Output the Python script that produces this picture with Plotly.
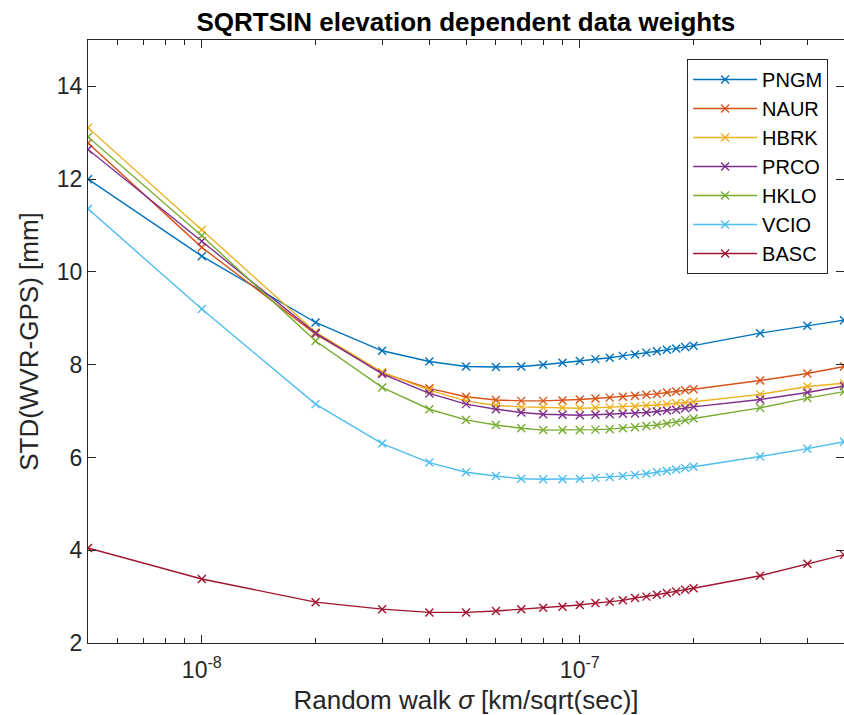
import plotly.graph_objects as go

x_sigma = [5e-9, 1e-8, 2e-8, 3e-8, 4e-8, 5e-8, 6e-8, 7e-8, 8e-8, 9e-8,
           1.0e-7, 1.1e-7, 1.2e-7, 1.3e-7, 1.4e-7, 1.5e-7, 1.6e-7, 1.7e-7, 1.8e-7, 1.9e-7,
           2.0e-7, 3e-7, 4e-7, 5e-7]

PNGM = [12.0, 10.34, 8.91, 8.30, 8.07, 7.96, 7.95, 7.96, 8.00, 8.04, 8.08, 8.12, 8.15, 8.19,
        8.22, 8.26, 8.29, 8.32, 8.35, 8.38, 8.41, 8.68, 8.84, 8.96]
NAUR = [12.78, 10.53, 8.66, 7.82, 7.49, 7.31, 7.24, 7.22, 7.22, 7.23, 7.25, 7.27, 7.29, 7.31,
        7.33, 7.35, 7.37, 7.40, 7.42, 7.45, 7.47, 7.66, 7.81, 7.96]
HBRK = [13.11, 10.91, 8.70, 7.84, 7.45, 7.22, 7.12, 7.09, 7.08, 7.07, 7.06, 7.07, 7.08, 7.09,
        7.10, 7.12, 7.13, 7.15, 7.17, 7.18, 7.20, 7.36, 7.53, 7.60]
PRCO = [12.64, 10.66, 8.68, 7.80, 7.38, 7.15, 7.04, 6.97, 6.93, 6.92, 6.91, 6.92, 6.93, 6.94,
        6.95, 6.97, 6.99, 7.01, 7.03, 7.06, 7.09, 7.25, 7.40, 7.54]
HKLO = [12.91, 10.78, 8.51, 7.51, 7.04, 6.81, 6.70, 6.63, 6.59, 6.59, 6.59, 6.60, 6.61, 6.63,
        6.65, 6.68, 6.70, 6.73, 6.76, 6.80, 6.84, 7.07, 7.28, 7.42]
VCIO = [11.36, 9.20, 7.15, 6.30, 5.89, 5.68, 5.60, 5.54, 5.53, 5.53, 5.54, 5.56, 5.58, 5.60,
        5.62, 5.65, 5.68, 5.71, 5.74, 5.77, 5.80, 6.02, 6.19, 6.34]
BASC = [4.05, 3.38, 2.88, 2.73, 2.66, 2.66, 2.69, 2.73, 2.76, 2.78, 2.82, 2.86, 2.89, 2.92,
        2.97, 3.00, 3.04, 3.08, 3.11, 3.15, 3.18, 3.45, 3.71, 3.90]

series_names = ["PNGM", "NAUR", "HBRK", "PRCO", "HKLO", "VCIO", "BASC"]
series_values = [PNGM, NAUR, HBRK, PRCO, HKLO, VCIO, BASC]
colors = ["#0072BD", "#D95319", "#EDB120", "#7E2F8E", "#77AC30", "#4DBEEE", "#A2142F"]

x_major_ticks = [1e-8, 1e-7]
x_major_labels = ["10<sup>-8</sup>", "10<sup>-7</sup>"]
x_minor_ticks = [6e-9, 7e-9, 8e-9, 9e-9, 2e-8, 3e-8, 4e-8, 5e-8, 6e-8, 7e-8, 8e-8, 9e-8,
                 2e-7, 3e-7, 4e-7, 5e-7]
y_ticks = [2, 4, 6, 8, 10, 12, 14]

FONT = "Liberation Sans, Arial, Helvetica, sans-serif"
AX = "#262626"

fig = go.Figure()
for name, vals, c in zip(series_names, series_values, colors):
    fig.add_trace(go.Scatter(
        x=x_sigma, y=vals, name=name, mode="lines+markers",
        line=dict(color=c, width=1.4),
        marker=dict(symbol="x-thin", size=8, line=dict(color=c, width=1.4)),
    ))

fig.update_layout(
    width=844, height=715,
    margin=dict(l=88, r=0, t=40, b=72, autoexpand=False),
    paper_bgcolor="white", plot_bgcolor="white",
    font=dict(family=FONT, color=AX, size=22),
    title=dict(text="<b>SQRTSIN elevation dependent data weights</b>",
               x=0.552, xanchor="center", yref="container", y=0.969, yanchor="middle",
               font=dict(size=26, color="black", family=FONT)),
    showlegend=True,
    legend=dict(x=0.979, xanchor="right", y=0.9685, yanchor="top",
                bgcolor="white", bordercolor=AX, borderwidth=1,
                font=dict(size=20, color="black", family=FONT),
                tracegroupgap=0, itemwidth=64),
    xaxis=dict(type="log", range=[-8.30103, -6.30103],
               tickmode="array", tickvals=x_major_ticks, ticktext=x_major_labels,
               ticks="inside", ticklen=8, tickcolor=AX, tickwidth=1,
               minor=dict(tickmode="array", tickvals=x_minor_ticks, ticks="inside",
                          ticklen=5, tickcolor=AX, showgrid=False),
               showline=True, linecolor=AX, linewidth=1, mirror="ticks",
               showgrid=False, zeroline=False, automargin=False,
               tickfont=dict(size=23), ticklabelstandoff=6,
               title=dict(text="Random walk <i>σ</i> [km/sqrt(sec)]", font=dict(size=26),
                          standoff=12)),
    yaxis=dict(range=[2, 15], tickmode="array", tickvals=y_ticks,
               ticks="inside", ticklen=8, tickcolor=AX, tickwidth=1,
               showline=True, linecolor=AX, linewidth=1, mirror="ticks",
               showgrid=False, zeroline=False, automargin=False,
               tickfont=dict(size=23),
               title=dict(text="STD(WVR-GPS) [mm]", font=dict(size=26), standoff=10)),
)

fig.write_html(
    "out.html",
    config={"displayModeBar": False},
    post_script="document.body.style.margin='0';document.body.style.overflow='hidden';"
                "document.documentElement.style.overflow='hidden';",
)
